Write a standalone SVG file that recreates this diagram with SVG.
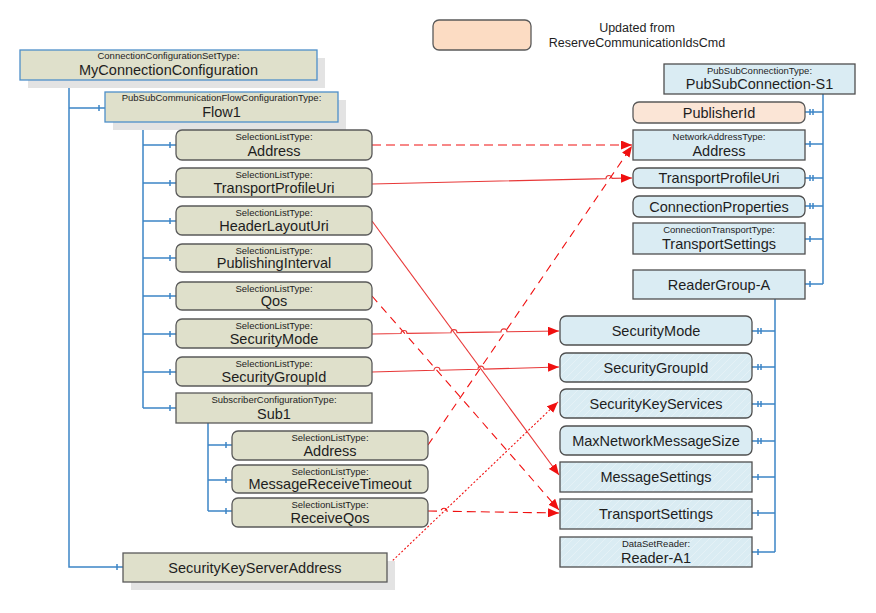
<svg xmlns="http://www.w3.org/2000/svg" width="876" height="613" viewBox="0 0 876 613">
<style>
text{font-family:"Liberation Sans",Arial,sans-serif;fill:#1e1e1e;text-anchor:middle}
.t{font-size:9.5px}
.n{font-size:14.5px}
.lg{font-size:12.5px}
.ln{fill:#dfe0cb;stroke:#5a5a5a;stroke-width:1.3}
.lb{fill:#dfe0cb;stroke:#4d8fc9;stroke-width:1.3}
.rn{fill:#daecf3;stroke:#4f4f4f;stroke-width:1.3}
.rh{fill:url(#hatch);stroke:#4f4f4f;stroke-width:1.3}
.pe{fill:#fbe5d6;stroke:#5a5a5a;stroke-width:1.3}
.sh{fill:#e3e3e3}
.bl{fill:none;stroke:#3d85c6;stroke-width:1.5}
.rd{fill:none;stroke:#f01010;stroke-width:1.1}
.rs{fill:none;stroke:#e83838;stroke-width:1.1}
</style>
<defs>
<pattern id="hatch" width="8" height="8" patternUnits="userSpaceOnUse">
<rect width="8" height="8" fill="#daecf3"/>
<path d="M0,8 L8,0 M-2,2 L2,-2 M6,10 L10,6" stroke="#e5f1f6" stroke-width="1"/>
</pattern>
<marker id="arr" markerWidth="11" markerHeight="9" refX="11" refY="4.5" orient="auto" markerUnits="userSpaceOnUse">
<path d="M0,0 L11,4.5 L0,9 z" fill="#f01010"/>
</marker>
</defs>
<rect width="876" height="613" fill="#fff"/>

<g id="legend">
<rect x="433" y="20" width="98" height="30" rx="6" fill="#fcdcc3" stroke="#5a5a5a" stroke-width="1.3"/>
<text class="lg" x="637" y="32">Updated from</text>
<text class="lg" x="637" y="47">ReserveCommunicationIdsCmd</text>
</g>

<g id="connectors">
<path class="bl" d="M69,80 V567 H123 M69,108 H105 M99,105 V111 M117,564 V570"/>
<path class="bl" d="M143,122 V408 M143,145 H176 M143,183 H176 M143,221 H176 M143,258 H176 M143,296 H176 M143,334 H176 M143,372 H176 M143,408 H176"/>
<path class="bl" d="M170,142 V148 M170,180 V186 M170,218 V224 M170,255 V261 M170,293 V299 M170,331 V337 M170,369 V375 M170,405 V411"/>
<path class="bl" d="M208,423 V511 M208,445 H232 M208,480 H232 M208,511 H232 M226,442 V448 M226,477 V483 M226,508 V514"/>
<path class="bl" d="M823,94 V284 M805,112 H823 M805,144 H823 M805,178 H823 M805,206 H823 M805,239 H823 M805,284 H823"/>
<path class="bl" d="M810,109 V115 M813,109 V115 M810,141 V147 M810,175 V181 M813,175 V181 M810,203 V209 M813,203 V209 M810,236 V242 M810,281 V287"/>
<path class="bl" d="M775,299 V552 M752,331 H775 M752,367 H775 M752,404 H775 M752,441 H775 M752,477 H775 M752,513 H775 M752,552 H775"/>
<path class="bl" d="M758,328 V334 M761,328 V334 M758,364 V370 M761,364 V370 M758,401 V407 M761,401 V407 M758,438 V444 M761,438 V444 M758,474 V480 M758,510 V516 M758,549 V555"/>
<path class="rd" d="M372,145 H632" stroke-dasharray="9,5" marker-end="url(#arr)"/>
<path class="rs" d="M372,184 L606,178.6 A3,3 0 0 1 612,178.4 L632,178" marker-end="url(#arr)"/>
<path class="rs" d="M372,221 L559,475" marker-end="url(#arr)"/>
<path class="rd" d="M372,296 L559,510" stroke-dasharray="8,6" marker-end="url(#arr)"/>
<path class="rs" d="M372,334 L401,333.5 A3,3 0 0 1 407,333.4 L451,332.7 A3,3 0 0 1 457,332.6 L501,331.9 A3,3 0 0 1 507,331.8 L559,331" marker-end="url(#arr)"/>
<path class="rs" d="M372,372 L434,370.3 A3,3 0 0 1 440,370.2 L478,369.2 A3,3 0 0 1 484,369.1 L559,367" marker-end="url(#arr)"/>
<path class="rd" d="M428,445 L632,146" stroke-dasharray="8,6" marker-end="url(#arr)"/>
<path class="rd" d="M428,511 L441,511.2 A3,3 0 0 1 447,511.3 L559,513" stroke-dasharray="9,5" marker-end="url(#arr)"/>
<path class="rd" d="M387,566 L558,402" stroke-dasharray="2,2" stroke-width="1" marker-end="url(#arr)"/>
</g>

<g id="MyConnectionConfiguration">
<rect class="sh" x="28" y="58" width="297" height="30"/>
<rect class="lb" x="20" y="50" width="297" height="30"/>
<text class="t" x="168.5" y="59">ConnectionConfigurationSetType:</text>
<text class="n" x="168.5" y="75">MyConnectionConfiguration</text>
</g>
<g id="Flow1">
<rect class="sh" x="113" y="100" width="233" height="30"/>
<rect class="lb" x="105" y="92" width="233" height="30"/>
<text class="t" x="221.5" y="101">PubSubCommunicationFlowConfigurationType:</text>
<text class="n" x="221.5" y="117">Flow1</text>
</g>
<g id="Flow1-Address">
<rect class="ln" x="176" y="130" width="196" height="30" rx="6"/>
<text class="t" x="274" y="140">SelectionListType:</text>
<text class="n" x="274" y="156">Address</text>
</g>
<g id="Flow1-TransportProfileUri">
<rect class="ln" x="176" y="168" width="196" height="29" rx="6"/>
<text class="t" x="274" y="178">SelectionListType:</text>
<text class="n" x="274" y="193">TransportProfileUri</text>
</g>
<g id="Flow1-HeaderLayoutUri">
<rect class="ln" x="176" y="206" width="196" height="29" rx="6"/>
<text class="t" x="274" y="216">SelectionListType:</text>
<text class="n" x="274" y="231">HeaderLayoutUri</text>
</g>
<g id="Flow1-PublishingInterval">
<rect class="ln" x="176" y="244" width="196" height="28" rx="6"/>
<text class="t" x="274" y="254">SelectionListType:</text>
<text class="n" x="274" y="268">PublishingInterval</text>
</g>
<g id="Flow1-Qos">
<rect class="ln" x="176" y="282" width="196" height="28" rx="6"/>
<text class="t" x="274" y="292">SelectionListType:</text>
<text class="n" x="274" y="306">Qos</text>
</g>
<g id="Flow1-SecurityMode">
<rect class="ln" x="176" y="319" width="196" height="29" rx="6"/>
<text class="t" x="274" y="329">SelectionListType:</text>
<text class="n" x="274" y="344">SecurityMode</text>
</g>
<g id="Flow1-SecurityGroupId">
<rect class="ln" x="176" y="357" width="196" height="29" rx="6"/>
<text class="t" x="274" y="367">SelectionListType:</text>
<text class="n" x="274" y="382">SecurityGroupId</text>
</g>
<g id="Sub1">
<rect class="ln" x="176" y="393" width="196" height="30"/>
<text class="t" x="274" y="403">SubscriberConfigurationType:</text>
<text class="n" x="274" y="419">Sub1</text>
</g>
<g id="Sub1-Address">
<rect class="ln" x="232" y="431" width="196" height="29" rx="6"/>
<text class="t" x="330" y="441">SelectionListType:</text>
<text class="n" x="330" y="456">Address</text>
</g>
<g id="Sub1-MessageReceiveTimeout">
<rect class="ln" x="232" y="465" width="196" height="28" rx="6"/>
<text class="t" x="330" y="475">SelectionListType:</text>
<text class="n" x="330" y="489">MessageReceiveTimeout</text>
</g>
<g id="Sub1-ReceiveQos">
<rect class="ln" x="232" y="498" width="196" height="29" rx="6"/>
<text class="t" x="330" y="508">SelectionListType:</text>
<text class="n" x="330" y="523">ReceiveQos</text>
</g>
<g id="SecurityKeyServerAddress">
<rect class="sh" x="131" y="561" width="264" height="29"/>
<rect class="ln" x="123" y="553" width="264" height="29"/>
<text class="n" x="255" y="573">SecurityKeyServerAddress</text>
</g>

<g id="PubSubConnection-S1">
<rect class="rn" x="664" y="64" width="191" height="30"/>
<text class="t" x="759.5" y="74">PubSubConnectionType:</text>
<text class="n" x="759.5" y="89">PubSubConnection-S1</text>
</g>
<g id="PublisherId">
<rect class="pe" x="633" y="102" width="172" height="21" rx="6"/>
<text class="n" x="719" y="117.5">PublisherId</text>
</g>
<g id="Conn-Address">
<rect class="rn" x="633" y="130" width="172" height="30"/>
<text class="t" x="719" y="140">NetworkAddressType:</text>
<text class="n" x="719" y="156">Address</text>
</g>
<g id="Conn-TransportProfileUri">
<rect class="rn" x="633" y="168" width="172" height="20" rx="6"/>
<text class="n" x="719" y="183">TransportProfileUri</text>
</g>
<g id="ConnectionProperties">
<rect class="rn" x="633" y="196" width="172" height="21" rx="6"/>
<text class="n" x="719" y="211.5">ConnectionProperties</text>
</g>
<g id="Conn-TransportSettings">
<rect class="rn" x="633" y="223" width="172" height="31"/>
<text class="t" x="719" y="233">ConnectionTransportType:</text>
<text class="n" x="719" y="249">TransportSettings</text>
</g>
<g id="ReaderGroup-A">
<rect class="rn" x="633" y="270" width="172" height="29"/>
<text class="n" x="719" y="290">ReaderGroup-A</text>
</g>
<g id="RG-SecurityMode">
<rect class="rn" x="560" y="316" width="192" height="29" rx="6"/>
<text class="n" x="656" y="336">SecurityMode</text>
</g>
<g id="RG-SecurityGroupId">
<rect class="rh" x="560" y="353" width="192" height="29" rx="6"/>
<text class="n" x="656" y="373">SecurityGroupId</text>
</g>
<g id="RG-SecurityKeyServices">
<rect class="rh" x="560" y="389" width="192" height="29" rx="6"/>
<text class="n" x="656" y="409">SecurityKeyServices</text>
</g>
<g id="RG-MaxNetworkMessageSize">
<rect class="rn" x="560" y="426" width="192" height="29" rx="6"/>
<text class="n" x="656" y="446">MaxNetworkMessageSize</text>
</g>
<g id="RG-MessageSettings">
<rect class="rh" x="560" y="462" width="192" height="30"/>
<text class="n" x="656" y="482">MessageSettings</text>
</g>
<g id="RG-TransportSettings">
<rect class="rh" x="560" y="499" width="192" height="30"/>
<text class="n" x="656" y="519">TransportSettings</text>
</g>
<g id="Reader-A1">
<rect class="rh" x="560" y="537" width="192" height="30"/>
<text class="t" x="656" y="547">DataSetReader:</text>
<text class="n" x="656" y="563">Reader-A1</text>
</g>
</svg>
